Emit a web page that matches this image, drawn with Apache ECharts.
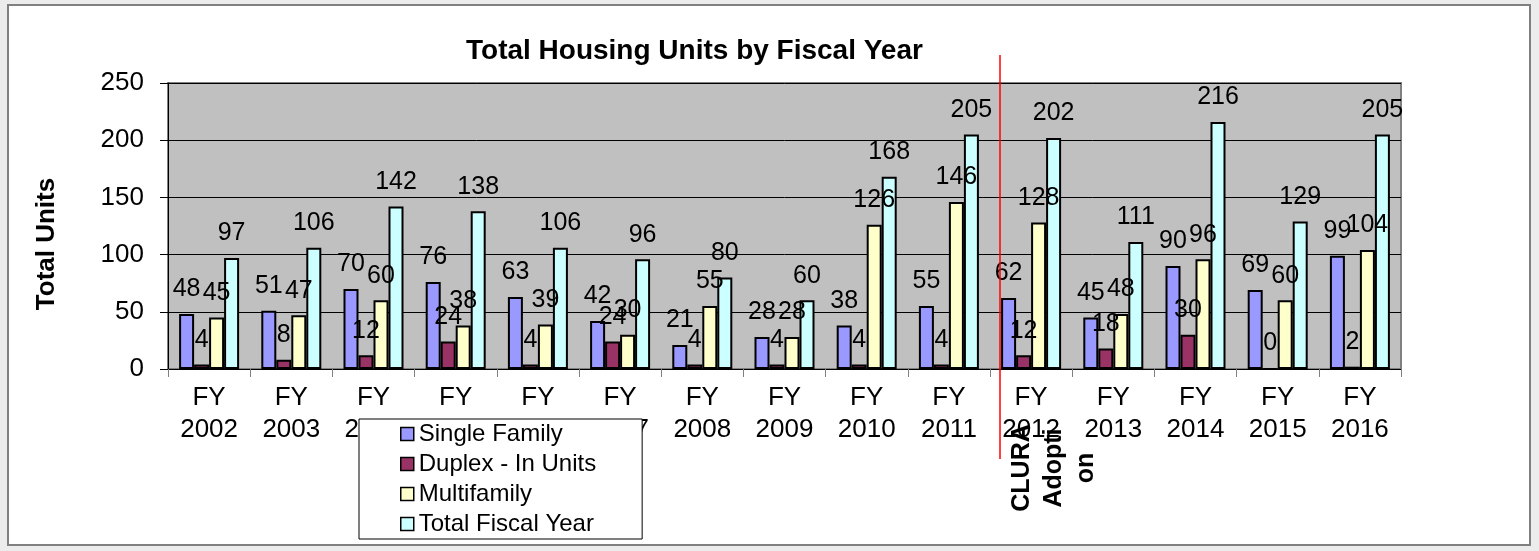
<!DOCTYPE html>
<html>
<head>
<meta charset="utf-8">
<title>Total Housing Units by Fiscal Year</title>
<script src="https://cdn.jsdelivr.net/npm/echarts@6/dist/echarts.min.js"></script>
<style>
  html, body { margin: 0; padding: 0; background: #ececec; }
  #chart { width: 1539px; height: 551px; }
</style>
</head>
<body>
<div id="chart"></div>
<script>
// data
var categories = ['FY\n2002', 'FY\n2003', 'FY\n2004', 'FY\n2005', 'FY\n2006', 'FY\n2007', 'FY\n2008', 'FY\n2009',
  'FY\n2010', 'FY\n2011', 'FY\n2012', 'FY\n2013', 'FY\n2014', 'FY\n2015', 'FY\n2016'];
var singleFamily = [48, 51, 70, 76, 63, 42, 21, 28, 38, 55, 62, 45, 90, 69, 99];
var duplexUnits = [4, 8, 12, 24, 4, 24, 4, 4, 4, 4, 12, 18, 30, 0, 2];
var multifamily = [45, 47, 60, 38, 39, 30, 55, 28, 126, 146, 128, 48, 96, 60, 104];
var totalFiscalYear = [97, 106, 142, 138, 106, 96, 80, 60, 168, 205, 202, 111, 216, 129, 205];
var yMin = 0, yMax = 250, yStep = 50;

var font = '"Liberation Sans", Arial, sans-serif';
var chart = echarts.init(document.getElementById('chart'));

function barSeries(name, data, color) {
  return {
    name: name,
    type: 'bar',
    data: data,
    barWidth: 15,
    barGap: '0%',
    itemStyle: { color: color, borderColor: '#000', borderWidth: 2 },
    label: {
      show: true,
      position: 'top',
      distance: 12,
      color: '#000',
      fontSize: 25,
      fontFamily: font
    }
  };
}

var option = {
  animation: false,
  backgroundColor: 'transparent',
  textStyle: { fontFamily: font },
  title: {
    text: 'Total Housing Units by Fiscal Year',
    left: 461,
    top: 32,
    textStyle: { fontSize: 28, fontWeight: 'bold', color: '#000', fontFamily: font }
  },
  legend: {
    orient: 'vertical',
    left: 359,
    top: 419,
    icon: 'rect',
    itemWidth: 13,
    itemHeight: 13,
    itemGap: 6,
    padding: [3, 46, 3, 41],
    backgroundColor: '#fff',
    borderColor: '#000',
    borderWidth: 1,
    itemStyle: { borderColor: '#000', borderWidth: 1.5 },
    textStyle: { fontSize: 24, color: '#000', fontFamily: font },
    z: 10
  },
  grid: {
    left: 168,
    right: 138,
    top: 83,
    bottom: 182,
    show: true,
    backgroundColor: '#C0C0C0',
    borderColor: '#808080',
    borderWidth: 2
  },
  xAxis: {
    type: 'category',
    data: categories,
    axisLine: { lineStyle: { color: '#000', width: 1 } },
    axisTick: { show: true, length: 8, lineStyle: { color: '#808080' } },
    axisLabel: { interval: 0, fontSize: 26, lineHeight: 32, color: '#000', margin: 13, fontFamily: font }
  },
  yAxis: {
    type: 'value',
    min: yMin,
    max: yMax,
    interval: yStep,
    name: 'Total Units',
    nameLocation: 'middle',
    nameRotate: 90,
    nameGap: 108,
    nameTextStyle: { fontSize: 26, fontWeight: 'bold', color: '#000', fontFamily: font, padding: [0, 36, 0, 0] },
    axisLine: { show: true, lineStyle: { color: '#000' } },
    axisTick: { show: true, length: 8, lineStyle: { color: '#000' } },
    axisLabel: { fontSize: 26, color: '#000', margin: 24, fontFamily: font },
    splitLine: { lineStyle: { color: '#000', width: 1 } }
  },
  graphic: [
    {
      type: 'rect',
      z: -10,
      shape: { x: 8, y: 5, width: 1522, height: 540 },
      style: { fill: '#fff', stroke: '#808080', lineWidth: 2 }
    },
    {
      type: 'line',
      z: 100,
      shape: { x1: 1000, y1: 55, x2: 1000, y2: 459 },
      style: { stroke: '#ff0000', lineWidth: 1.5 }
    },
    {
      type: 'text',
      z: 100,
      x: 1006,
      y: 468,
      rotation: Math.PI / 2,
      style: {
        text: 'CLURA\nAdopti\non',
        fill: '#000',
        fontSize: 25,
        fontWeight: 'bold',
        fontFamily: font,
        lineHeight: 32,
        align: 'center',
        verticalAlign: 'top'
      }
    }
  ],
  series: [
    barSeries('Single Family', singleFamily, '#9999FF'),
    barSeries('Duplex - In Units', duplexUnits, '#993366'),
    barSeries('Multifamily', multifamily, '#FFFFCC'),
    barSeries('Total Fiscal Year', totalFiscalYear, '#CCFFFF')
  ]
};

chart.setOption(option);
</script>
</body>
</html>
